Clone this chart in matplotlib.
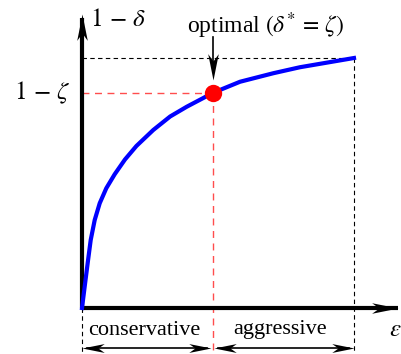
import numpy as np
from matplotlib import pyplot as plt
from matplotlib.path import Path

plt.rcParams['font.family'] = ['Liberation Serif', 'DejaVu Serif']
plt.rcParams['mathtext.fontset'] = 'stix'

# curve: epsilon vs 1 - delta (both normalised to 0..1)
eps = [0, 0.0121, 0.0221, 0.032, 0.0467, 0.0651, 0.0893, 0.1202, 0.158, 0.200,
       0.262, 0.324, 0.385, 0.446, 0.480, 0.581, 0.703, 0.801, 1.0]
perf = [0, 0.105, 0.19, 0.272, 0.352, 0.419, 0.479, 0.535, 0.594, 0.648,
        0.712, 0.766, 0.805, 0.840, 0.860, 0.905, 0.939, 0.963, 1.0]

# optimal operating point
opt_eps = 0.480
opt_perf = 0.860

region_labels = ['conservative', 'aggressive']

# stealth arrow heads as marker paths (tip at the marker centre)
codes = [Path.MOVETO, Path.LINETO, Path.LINETO, Path.LINETO, Path.CLOSEPOLY]
head_right = Path([(0, 0), (-1, 0.2), (-0.72, 0), (-1, -0.2), (0, 0)], codes)
head_left = Path([(0, 0), (1, 0.2), (0.72, 0), (1, -0.2), (0, 0)], codes)
head_up = Path([(0, 0), (0.2, -1), (0, -0.72), (-0.2, -1), (0, 0)], codes)
head_down = Path([(0, 0), (0.2, 1), (0, 0.72), (-0.2, 1), (0, 0)], codes)

fig = plt.figure(figsize=(4.02, 3.54), dpi=100)
ax = fig.add_axes([0, 0, 1, 1])
ax.set_xlim(-82 / 272, 320 / 272)
ax.set_ylim(-46 / 250, 308 / 250)
ax.axis('off')

# helper dashed lines
ax.plot([0, 1], [1, 1], color='black', lw=0.8, ls=(0, (4, 3)))
ax.plot([1, 1], [1, -0.184], color='black', lw=0.8, ls=(0, (4, 3)))
ax.plot([0, 0], [0, -0.184], color='black', lw=0.8, ls=(0, (4, 3)))
ax.plot([0, opt_eps], [opt_perf, opt_perf], color='#ff4d4d', lw=1.0, ls=(0, (5, 4)))
ax.plot([opt_eps, opt_eps], [opt_perf, -0.184], color='#ff4d4d', lw=1.0, ls=(0, (5, 4)))

# axes with arrows
ax.plot([0, 1.162], [0, 0], color='black', lw=3, solid_capstyle='butt')
ax.plot([0, 0], [0, 1.16], color='black', lw=3, solid_capstyle='butt')
ax.plot([1.162], [0], marker=head_right, ms=38, color='black', mew=0)
ax.plot([0], [1.176], marker=head_up, ms=38, color='black', mew=0)

# curve and optimal point
ax.plot(eps, perf, color='#0000ff', lw=3, zorder=4, solid_joinstyle='round')
ax.plot([opt_eps], [opt_perf], 'o', color='red', ms=12.5, mew=0, zorder=5)

# arrow pointing at optimal point
ax.plot([opt_eps, opt_eps], [1.084, 0.95], color='black', lw=1.2)
ax.plot([opt_eps], [0.91], marker=head_down, ms=38, color='black', mew=0)

# region arrows below the axis
y_arr = -0.16
ax.plot([0.02, opt_eps - 0.02], [y_arr, y_arr], color='black', lw=1.2)
ax.plot([opt_eps + 0.02, 0.98], [y_arr, y_arr], color='black', lw=1.2)
for a, b in [(0, opt_eps - 0.004), (opt_eps + 0.004, 1)]:
    ax.plot([a], [y_arr], marker=head_left, ms=32, color='black', mew=0)
    ax.plot([b], [y_arr], marker=head_right, ms=32, color='black', mew=0)

ax.text(opt_eps / 2 - 0.01, -0.09, region_labels[0], fontsize=16, ha='center', va='center')
ax.text((opt_eps + 1) / 2 - 0.01, -0.085, region_labels[1], fontsize=16, ha='center', va='center')

# labels
ax.text(0.03, 1.15, r'$1\,-\,\delta$', fontsize=18, ha='left', va='center')
ax.text(-0.04, opt_perf, r'$1\,-\,\zeta$', fontsize=18, ha='right', va='center')
ax.text(1.13, -0.09, r'$\epsilon$', fontsize=18, ha='left', va='center')
ax.text(0.675, 1.13, r'optimal $(\delta^{*}\,=\,\zeta)$', fontsize=17, ha='center', va='center')

plt.savefig('out.png', dpi=100)
